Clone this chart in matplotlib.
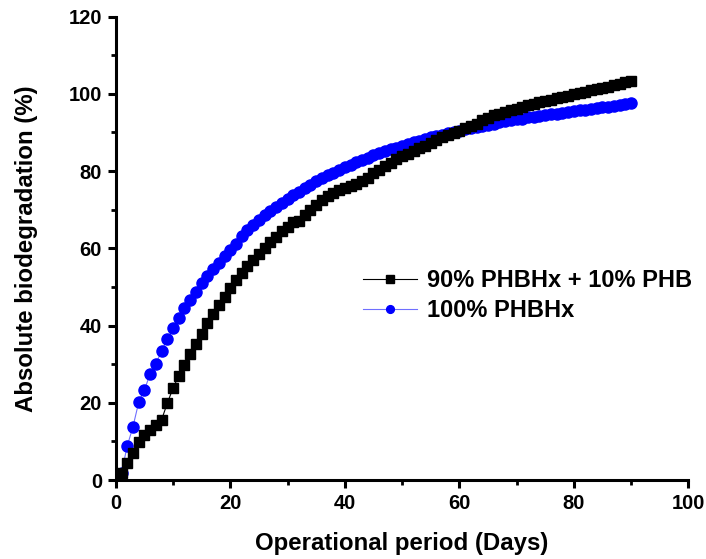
import matplotlib
matplotlib.use("Agg")
import matplotlib.pyplot as plt
from matplotlib.ticker import MultipleLocator

plt.rcParams['font.family'] = ['Liberation Sans', 'DejaVu Sans']
plt.rcParams['font.weight'] = 'bold'

days = list(range(1, 91))

blend_90_10 = [
    1.8, 4.3, 7.1, 9.9, 11.6, 13.0, 14.3, 15.6, 19.9, 23.8,
    27.0, 29.8, 32.7, 35.3, 37.8, 40.6, 43.0, 45.4, 47.5, 49.7,
    51.7, 53.6, 55.3, 57.0, 58.6, 60.1, 61.6, 63.0, 64.4, 65.6,
    66.8, 67.2, 68.5, 69.9, 71.2, 72.4, 73.5, 74.3, 75.0, 75.6,
    76.2, 76.7, 77.3, 78.3, 79.4, 80.4, 81.3, 82.2, 83.0, 83.8,
    84.5, 85.2, 85.9, 86.6, 87.3, 88.0, 88.7, 89.3, 89.9, 90.5,
    91.1, 91.7, 92.3, 93.2, 93.8, 94.4, 94.9, 95.3, 95.8, 96.2,
    96.6, 97.0, 97.4, 97.8, 98.1, 98.5, 98.8, 99.2, 99.5, 99.9,
    100.2, 100.5, 100.9, 101.2, 101.6, 101.9, 102.3, 102.6, 103.0, 103.4,
]

pure_phbhx = [
    1.9, 8.8, 13.8, 20.1, 23.3, 27.5, 30.1, 33.4, 36.5, 39.3,
    42.0, 44.5, 46.7, 48.8, 51.0, 52.9, 54.6, 56.3, 57.9, 59.6,
    61.2, 63.3, 64.7, 66.0, 67.3, 68.5, 69.6, 70.7, 71.8, 72.8,
    73.8, 74.7, 75.6, 76.5, 77.3, 78.1, 78.9, 79.6, 80.3, 81.0,
    81.7, 82.3, 82.9, 83.5, 84.1, 84.6, 85.1, 85.6, 86.1, 86.6,
    87.0, 87.5, 87.9, 88.3, 88.7, 89.1, 89.4, 89.8, 90.1, 90.5,
    90.8, 91.1, 91.4, 91.7, 92.0, 92.3, 92.6, 92.9, 93.1, 93.4,
    93.6, 93.9, 94.1, 94.3, 94.5, 94.7, 94.9, 95.1, 95.3, 95.5,
    95.7, 95.9, 96.1, 96.3, 96.5, 96.7, 96.9, 97.1, 97.3, 97.5,
]

labels = ["90% PHBHx + 10% PHB", "100% PHBHx"]

fig = plt.figure(figsize=(7.06, 5.59), dpi=100)
ax = fig.add_axes([0.164, 0.1413, 0.811, 0.829])

ax.plot(days, blend_90_10, color='black', lw=0.8, marker='s', ms=7.3,
        mec='black', mfc='black', label=labels[0], zorder=3)
ax.plot(days, pure_phbhx, color='#6f6fff', lw=0.8, marker='o', ms=8.0,
        mec='blue', mfc='blue', label=labels[1], zorder=2)

ax.set_xlim(0, 100)
ax.set_ylim(0, 120)
ax.xaxis.set_major_locator(MultipleLocator(20))
ax.xaxis.set_minor_locator(MultipleLocator(10))
ax.yaxis.set_major_locator(MultipleLocator(20))
ax.yaxis.set_minor_locator(MultipleLocator(10))

for side in ('top', 'right'):
    ax.spines[side].set_visible(False)
for side in ('left', 'bottom'):
    ax.spines[side].set_linewidth(2.2)

ax.tick_params(which='major', direction='out', length=6, width=2.2, labelsize=14.5, pad=4)
ax.tick_params(which='minor', direction='out', length=3.5, width=2.0)
for lbl in ax.get_xticklabels() + ax.get_yticklabels():
    lbl.set_fontweight('bold')

ax.set_xlabel("Operational period (Days)", fontsize=17.3, fontweight='bold', labelpad=14)
ax.set_ylabel("Absolute biodegradation (%)", fontsize=17.3, fontweight='bold', labelpad=22)

leg = ax.legend(loc='center left', bbox_to_anchor=(0.432, 0.398), frameon=False,
                fontsize=17, handlelength=2.3, handletextpad=0.42,
                labelspacing=0.28, markerscale=0.7, borderaxespad=0, borderpad=0)
for t in leg.get_texts():
    t.set_fontweight('bold')

fig.savefig("out.png", dpi=100)
